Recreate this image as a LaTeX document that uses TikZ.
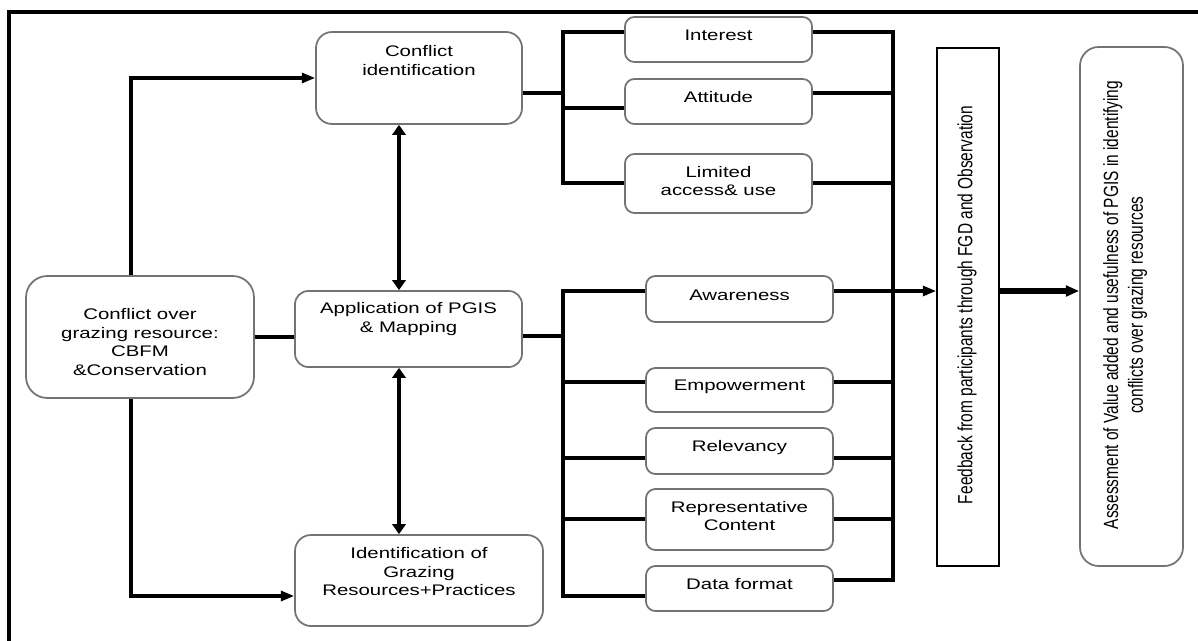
\documentclass[tikz,border=0pt]{standalone}
\usepackage{fontspec}
\setmainfont{Liberation Sans}[FakeStretch=1.33]
\newfontfamily\vfont{Liberation Sans}
\usetikzlibrary{arrows.meta,fit,calc}
\begin{document}
\begin{tikzpicture}[x=0.75pt,y=-0.75pt,
  box/.style={draw=black!55, line width=1.3pt, rounded corners=#1, inner sep=0pt},
  box/.default=7pt,
  txt/.style={font=\fontsize{11.5pt}{14pt}\selectfont, align=center, inner sep=0pt},
  conn/.style={line width=2.3pt, line join=miter},
  harrow/.style={conn, -{Triangle[length=10pt,width=7.5pt]}},
  varrow/.style={conn, {Triangle[length=7.5pt,width=10pt]}-{Triangle[length=7.5pt,width=10pt]}},
  bigarrow/.style={line width=4pt, -{Triangle[length=10pt,width=8pt]}},
  vtxt/.style={rotate=90, inner sep=0pt}]
\fill[white] (0,0) rectangle (1198,641);
\useasboundingbox (0,0) rectangle (1198,641);
% frame
\draw[line width=3pt, line join=miter] (8.5,641) -- (8.5,12) -- (1198,12);

% main boxes
\node[box=16pt, fit={(26,276)(254,398)}] (co) {};
\node[txt, anchor=north] (co-t) at (140,308) {Conflict over\\grazing resource:\\CBFM\\\&Conservation};
\node[box=12pt, fit={(316,32)(522,124)}] (ci) {};
\node[txt, anchor=north] (ci-t) at (419,45) {Conflict\\identification};
\node[box=10pt, fit={(295,291)(522,367)}] (app) {};
\node[txt, anchor=north] (app-t) at (408.5,302) {Application of PGIS\\\& Mapping};
\node[box=12pt, fit={(295,535)(543,626)}] (gr) {};
\node[txt, anchor=north] (gr-t) at (419,547) {Identification of\\Grazing\\Resources+Practices};

% small boxes
\node[box, fit={(625,17)(812,62)}] (int) {};
\node[txt] (int-t) at (718.5,35.5) {Interest};
\node[box, fit={(625,79)(812,124)}] (att) {};
\node[txt] (att-t) at (718.5,97.5) {Attitude};
\node[box, fit={(625,154)(812,213)}] (lim) {};
\node[txt] (lim-t) at (718.5,181) {Limited\\access\& use};
\node[box, fit={(646,276)(833,322)}] (awa) {};
\node[txt] (awa-t) at (739.5,295) {Awareness};
\node[box, fit={(646,368)(833,412)}] (emp) {};
\node[txt] (emp-t) at (739.5,387) {Empowerment};
\node[box, fit={(646,428)(833,474)}] (rel) {};
\node[txt] (rel-t) at (739.5,448) {Relevancy};
\node[box, fit={(646,489)(833,550)}] (rep) {};
\node[txt] (rep-t) at (739.5,516) {Representative\\Content};
\node[box, fit={(646,566)(833,611)}] (dat) {};
\node[txt] (dat-t) at (739.5,584.5) {Data format};

% right boxes
\node[draw, line width=1.3pt, inner sep=0pt, fit={(937,48)(999,566)}] (fb) {};
\node[vtxt] (fb-t) at (967,305) {\scalebox{1}[1.33]{\vfont\fontsize{11.6pt}{14pt}\selectfont Feedback from participants through FGD and Observation}};
\node[box=14pt, fit={(1080,47)(1183,566)}] (as) {};
\node[vtxt] (as-t) at (1125.5,305) {\scalebox{1}[1.33]{\vfont\fontsize{11.6pt}{14pt}\selectfont\begin{tabular}{@{}c@{}}Assessment of Value added and usefulness of PGIS in identifying\\conflicts over grazing resources\end{tabular}}};

% helper coordinates
\coordinate (vl) at (131,0);
\coordinate (dx) at (399,0);
\coordinate (b1) at (563,0);
\coordinate (b2) at (893,0);
\coordinate (y32) at (0,32);
\coordinate (y93) at (0,93);
\coordinate (y108) at (0,108);
\coordinate (y183) at (0,183);
\coordinate (y291) at (0,291);
\coordinate (y336) at (0,336);
\coordinate (y382) at (0,382);
\coordinate (y458) at (0,458);
\coordinate (y519) at (0,519);
\coordinate (y580) at (0,580);
\coordinate (y596) at (0,596);

% left connectors
\draw[harrow] (co.north -| vl) |- (ci.west);
\draw[harrow] (co.south -| vl) |- (gr.west |- y596);
\draw[conn] (co.east) -- (co.east -| app.west);
\draw[varrow] (ci.south -| dx) -- (app.north -| dx);
\draw[varrow] (app.south -| dx) -- (gr.north -| dx);

% upper left bracket
\draw[conn] (ci.east |- y93) -- (b1 |- y93);
\draw[conn] (int.west |- y32) -- (b1 |- y32) -- (b1 |- y183) -- (lim.west |- y183);
\draw[conn] (b1 |- y108) -- (att.west |- y108);

% lower left bracket
\draw[conn] (app.east |- y336) -- (b1 |- y336);
\draw[conn] (awa.west |- y291) -- (b1 |- y291) -- (b1 |- y596) -- (dat.west |- y596);
\draw[conn] (b1 |- y382) -- (emp.west |- y382);
\draw[conn] (b1 |- y458) -- (rel.west |- y458);
\draw[conn] (b1 |- y519) -- (rep.west |- y519);

% right bracket
\draw[conn] (int.east |- y32) -- (b2 |- y32) -- (b2 |- y580) -- (dat.east |- y580);
\draw[conn] (att.east |- y93) -- (b2 |- y93);
\draw[conn] (lim.east |- y183) -- (b2 |- y183);
\draw[conn] (emp.east |- y382) -- (b2 |- y382);
\draw[conn] (rel.east |- y458) -- (b2 |- y458);
\draw[conn] (rep.east |- y519) -- (b2 |- y519);
\draw[harrow] (awa.east |- y291) -- (fb.west |- y291);
\draw[bigarrow] (fb.east |- y291) -- (as.west |- y291);
\end{tikzpicture}
\end{document}
